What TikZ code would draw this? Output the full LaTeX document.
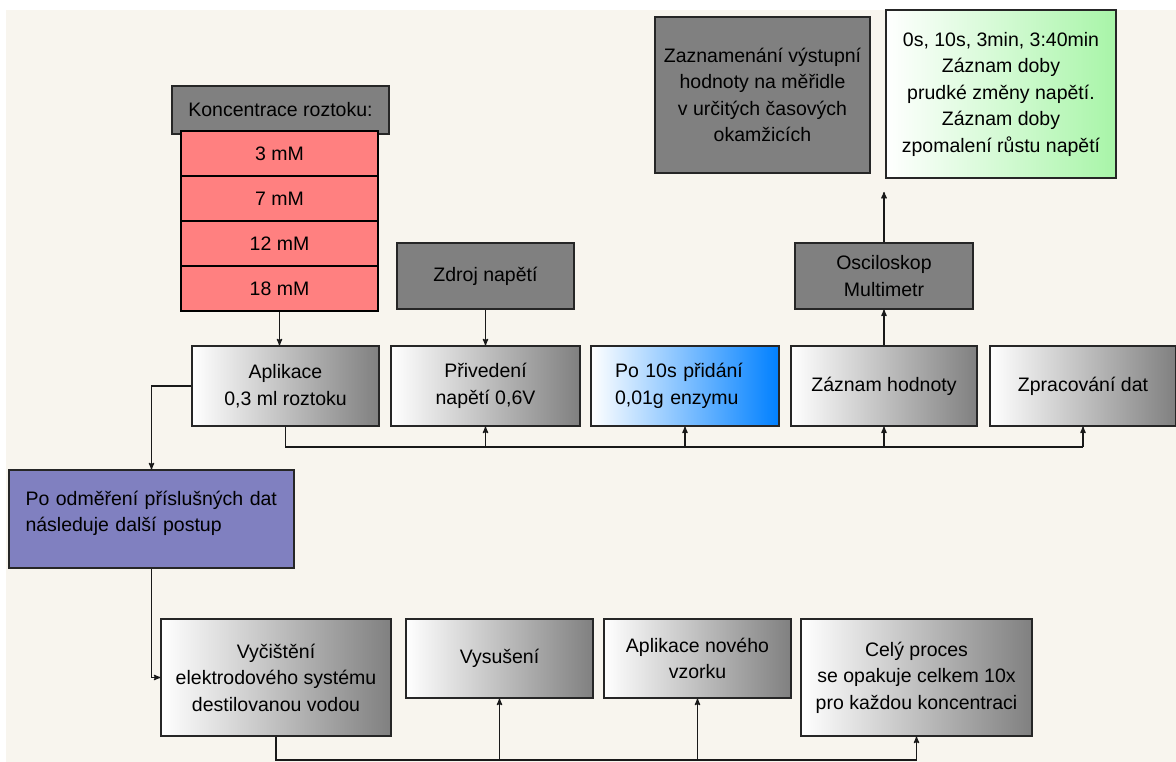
\documentclass[tikz,border=0pt]{standalone}
\usepackage{fontspec}
\setmainfont{Liberation Sans}
\usetikzlibrary{arrows}
\definecolor{paper}{RGB}{248,245,238}
\definecolor{boxgray}{RGB}{128,128,128}
\definecolor{salmon}{RGB}{255,128,128}
\definecolor{lavender}{RGB}{128,128,192}
\definecolor{skyblue}{RGB}{0,128,255}
\definecolor{mint}{RGB}{168,245,168}

\begin{document}
\begin{tikzpicture}[x=1pt,y=-1pt,>=stealth']
                      \tikzstyle{box}=[draw=black!85,line width=1.3pt,inner sep=0pt,align=center,font=\fontsize{19.5}{26.5}\selectfont]
                      \tikzstyle{graybox}=[box,fill=boxgray]
                      \tikzstyle{fadebox}=[box,left color=white,right color=boxgray]
                      \tikzstyle{redbox}=[box,fill=salmon,line width=1.6pt,draw=black,minimum width=197pt,minimum height=45pt]
                      \tikzstyle{wire}=[line width=1.3pt,black!90]
                      \useasboundingbox (0,0) rectangle (1176,762);
                      \fill[white] (0,0) rectangle (1176,762);
                      \fill[paper] (6,10) rectangle (1176,762);
                      \node[graybox,minimum width=217pt,minimum height=48pt] (konc) at (280.5,110) {Koncentrace roztoku:};
                      \node[redbox] (r3) at (279.5,153.5) {3 mM};
                      \node[redbox] (r7) at (279.5,198.5) {7 mM};
                      \node[redbox] (r12) at (279.5,243.5) {12 mM};
                      \node[redbox] (r18) at (279.5,288.5) {18 mM};
                      \node[graybox,minimum width=177pt,minimum height=66pt] (zdroj) at (485.5,276) {Zdroj napětí};
                      \node[graybox,minimum width=178pt,minimum height=66pt] (osc) at (884,276) {Osciloskop\\Multimetr};
                      \node[graybox,minimum width=215pt,minimum height=156pt] (zazn) at (762.5,95) {Zaznamenání výstupní\\hodnoty na měřidle\\v určitých časových\\okamžicích};
                      \node[box,left color=white,right color=mint,minimum width=230pt,minimum height=168pt] (casy) at (1001,94) {0s, 10s, 3min, 3:40min\\Záznam doby\\prudké změny napětí.\\Záznam doby\\zpomalení růstu napětí};
                      \node[fadebox,minimum width=187pt,minimum height=80pt] (apl) at (285.5,386) {Aplikace\\0,3 ml roztoku};
                      \node[fadebox,minimum width=189pt,minimum height=80pt] (priv) at (485.5,386) {Přivedení\\napětí 0,6V};
                      \node[box,left color=white,right color=skyblue,minimum width=188pt,minimum height=80pt,text width=140pt,align=left] (enz) at (685,386) {Po 10s přidání\\0,01g enzymu};
                      \node[fadebox,minimum width=186pt,minimum height=80pt] (zaz) at (884,386) {Záznam hodnoty};
                      \node[fadebox,minimum width=186pt,minimum height=80pt] (zprac) at (1083,386) {Zpracování dat};
                      \node[box,fill=lavender,minimum width=285pt,minimum height=98pt,text width=252pt,align=left,inner ysep=16pt,text height=19pt,text depth=47pt] (odm) at (151.5,519) {Po odměření příslušných dat\\následuje další postup};
                      \node[fadebox,minimum width=230pt,minimum height=117pt] (vyc) at (276,677.5) {Vyčištění\\elektrodového systému\\destilovanou vodou};
                      \node[fadebox,minimum width=187pt,minimum height=79pt] (vys) at (499.5,658.5) {Vysušení};
                      \node[fadebox,minimum width=187pt,minimum height=79pt] (novy) at (697.5,658.5) {Aplikace nového\\vzorku};
                      \node[fadebox,minimum width=231pt,minimum height=117pt] (cely) at (916.5,677.5) {Celý proces\\se opakuje celkem 10x\\pro každou koncentraci};
                      \coordinate (tip) at (884,192);
                      \coordinate (bus) at (285.5,447);
                      \coordinate (bus2) at (276,760);
                      \draw[wire,->] (r18.south) -- (r18.south |- apl.north);
                      \draw[wire,->] (zdroj.south) -- (priv.north);
                      \draw[wire,->] (zaz.north) -- (osc.south);
                      \draw[wire,->] (osc.north) -- (tip);
                      \draw[wire] (apl.south) -- (bus) -- (bus -| zprac.south);
                      \draw[wire,->] (bus -| priv.south) -- (priv.south);
                      \draw[wire,->] (bus -| enz.south) -- (enz.south);
                      \draw[wire,->] (bus -| zaz.south) -- (zaz.south);
                      \draw[wire,->] (bus -| zprac.south) -- (zprac.south);
                      \draw[wire,->] (apl.west) -| (odm.north);
                      \draw[wire,->] (odm.south) |- (vyc.west);
                      \draw[wire] (vyc.south) -- (bus2) -- (bus2 -| cely.south);
                      \draw[wire,->] (bus2 -| vys.south) -- (vys.south);
                      \draw[wire,->] (bus2 -| novy.south) -- (novy.south);
                      \draw[wire,->] (bus2 -| cely.south) -- (cely.south);
\end{tikzpicture}
\end{document}
